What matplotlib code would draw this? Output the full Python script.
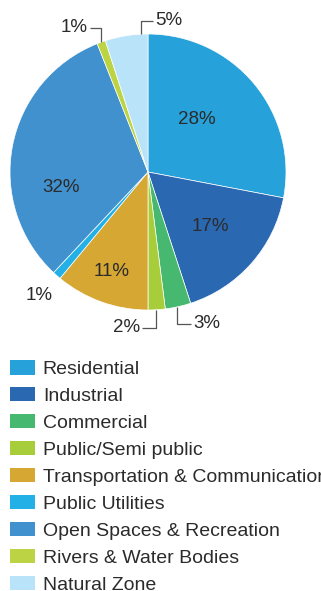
import numpy as np
import matplotlib
matplotlib.use("Agg")
import matplotlib.pyplot as plt
from matplotlib.patches import Patch

plt.rcParams['font.family'] = ['Liberation Sans', 'DejaVu Sans']

# data
categories = ['Residential', 'Industrial', 'Commercial', 'Public/Semi public',
              'Transportation & Communication', 'Public Utilities',
              'Open Spaces & Recreation', 'Rivers & Water Bodies', 'Natural Zone']
shares = [28, 17, 3, 2, 11, 1, 32, 1, 5]
pct_labels = ['28%', '17%', '3%', '2%', '11%', '1%', '32%', '1%', '5%']

colors = ['#27a1d9', '#2a69b2', '#47b86f', '#a8cd3b', '#d6a833',
          '#22b0e6', '#4191cf', '#bcd443', '#b8e3f8']
txt_col = '#2b2b2b'
line_col = '#555555'

W, H = 321, 591
fig = plt.figure(figsize=(W / 100, H / 100), dpi=100)

# pie centre and radius in pixels
cx, cy, R = 148, 172, 138
ax = fig.add_axes([(cx - R) / W, (H - cy - R) / H, 2 * R / W, 2 * R / H])
wedges, _ = ax.pie(shares, colors=colors, startangle=90, counterclock=False,
                   radius=1, wedgeprops=dict(edgecolor='white', linewidth=0.5))
ax.set_xlim(-1, 1)
ax.set_ylim(-1, 1)
ax.set_aspect('equal')
ax.axis('off')

def mid_angle(w):
    return np.deg2rad((w.theta1 + w.theta2) / 2)

pfs = 13.5
# labels inside / plain outside: index -> (radius, angle offset deg)
plain = {0: (0.52, 8), 1: (0.60, 0), 4: (0.77, 0), 6: (0.64, 21), 5: (1.19, 0)}
for i, (r, off) in plain.items():
    a = mid_angle(wedges[i]) + np.deg2rad(off)
    ax.text(r * np.cos(a), r * np.sin(a), pct_labels[i], ha='center', va='center',
            fontsize=pfs, color=txt_col, clip_on=False)

# labels with elbow leader lines: index -> (rim angle deg, elbow y, end dx, side)
leaders = {3: (-86.8, -1.13, -0.10, 'right'),
           2: (-77.7, -1.10, 0.10, 'left'),
           7: (109.7, 1.045, -0.085, 'right'),
           8: (93.0, 1.096, 0.09, 'left')}
for i, (ang, ey, dx, side) in leaders.items():
    a = np.deg2rad(ang)
    x0, y0 = np.cos(a), np.sin(a)
    ax.plot([x0, x0, x0 + dx], [y0, ey, ey], color=line_col, lw=0.9,
            clip_on=False, solid_capstyle='butt')
    tx = x0 + dx + (0.015 if side == 'left' else -0.015)
    ax.text(tx, ey, pct_labels[i], ha=side, va='center', fontsize=pfs,
            color=txt_col, clip_on=False)

handles = [Patch(facecolor=c, edgecolor='none') for c in colors]
fs = 14
px = fs * 100 / 72
leg = fig.legend(handles, categories, loc='upper left',
                 bbox_to_anchor=(10 / W, 1 - 360 / H), frameon=False,
                 fontsize=fs, handlelength=25 / px, handleheight=15 / px,
                 handletextpad=0.4, labelspacing=0.46, borderpad=0,
                 borderaxespad=0)
for t in leg.get_texts():
    t.set_color(txt_col)

fig.savefig('out.png', dpi=100)
